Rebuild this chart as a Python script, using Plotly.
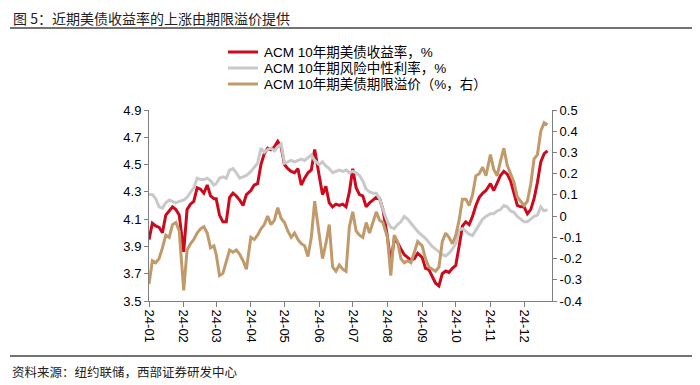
import plotly.graph_objects as go

# ---- data ----
months = list(range(1, 13))
days_in_month = [1, 4, 7, 10, 13, 16, 19, 22, 25, 28]
points_in_dec = 8

yield_10y = [  # ACM 10年期美债收益率, %
    3.95, 4.07, 4.05, 4.04, 4.00, 4.13, 4.16, 4.19, 4.17, 4.13,   # Jan
    3.86, 4.17, 4.21, 4.23, 4.33, 4.32, 4.29, 4.35, 4.27, 4.25,   # Feb
    4.25, 4.13, 4.08, 4.08, 4.26, 4.29, 4.27, 4.24, 4.20, 4.28,   # Mar
    4.31, 4.35, 4.36, 4.50, 4.58, 4.62, 4.61, 4.63, 4.67, 4.63,   # Apr
    4.50, 4.47, 4.45, 4.44, 4.47, 4.35, 4.40, 4.44, 4.46, 4.61,   # May
    4.42, 4.28, 4.34, 4.22, 4.19, 4.21, 4.20, 4.21, 4.19, 4.30,   # Jun
    4.47, 4.33, 4.28, 4.27, 4.19, 4.22, 4.24, 4.26, 4.25, 4.17,   # Jul
    3.97, 3.78, 3.95, 3.93, 3.88, 3.84, 3.82, 3.80, 3.81, 3.85,   # Aug
    3.82, 3.74, 3.73, 3.68, 3.63, 3.61, 3.70, 3.72, 3.71, 3.74,   # Sep
    3.76, 3.90, 4.05, 4.08, 4.06, 4.12, 4.20, 4.26, 4.29, 4.31,   # Oct
    4.36, 4.31, 4.37, 4.42, 4.45, 4.43, 4.38, 4.28, 4.20, 4.19,   # Nov
    4.19, 4.14, 4.17, 4.25, 4.37, 4.52, 4.58, 4.60,               # Dec
]

risk_neutral = [  # ACM 10年期风险中性利率, %
    4.28, 4.28, 4.25, 4.19, 4.18, 4.22, 4.24, 4.23, 4.22, 4.23,   # Jan
    4.24, 4.26, 4.30, 4.33, 4.40, 4.39, 4.39, 4.40, 4.38, 4.35,   # Feb
    4.36, 4.40, 4.41, 4.40, 4.46, 4.47, 4.44, 4.40, 4.41, 4.42,   # Mar
    4.45, 4.48, 4.51, 4.62, 4.59, 4.61, 4.62, 4.60, 4.63, 4.65,   # Apr
    4.51, 4.52, 4.53, 4.52, 4.53, 4.54, 4.53, 4.55, 4.57, 4.53,   # May
    4.50, 4.52, 4.49, 4.47, 4.44, 4.45, 4.46, 4.45, 4.46, 4.44,   # Jun
    4.45, 4.44, 4.42, 4.38, 4.32, 4.30, 4.29, 4.29, 4.25, 4.17,   # Jul
    4.08, 4.04, 4.03, 4.06, 4.08, 4.12, 4.10, 4.07, 4.04, 4.01,   # Aug
    3.98, 3.96, 3.93, 3.90, 3.88, 3.86, 3.84, 3.83, 3.85, 3.88,   # Sep
    3.92, 4.02, 4.03, 4.01, 3.99, 3.98, 4.02, 4.05, 4.10, 4.12,   # Oct
    4.14, 4.14, 4.16, 4.17, 4.20, 4.19, 4.16, 4.15, 4.12, 4.10,   # Nov
    4.08, 4.08, 4.10, 4.12, 4.13, 4.19, 4.16, 4.17,               # Dec
]

term_premium = [  # ACM 10年期美债期限溢价 (%, 右)
    -0.32, -0.21, -0.22, -0.20, -0.15, -0.09, -0.10, -0.04, -0.03, -0.07,  # Jan
    -0.35, -0.16, -0.13, -0.11, -0.08, -0.06, -0.05, -0.08, -0.15, -0.14,  # Feb
    -0.18, -0.28, -0.27, -0.22, -0.16, -0.17, -0.16, -0.18, -0.21, -0.25,  # Mar
    -0.10, -0.11, -0.09, -0.06, -0.04, 0.00, -0.04, -0.02, 0.04, -0.01,    # Apr
    -0.03, -0.07, -0.10, -0.08, -0.11, -0.13, -0.14, -0.19, -0.10, 0.07,   # May
    -0.08, -0.20, -0.13, -0.04, -0.24, -0.26, -0.23, -0.25, -0.26, -0.05,  # Jun
    0.02, -0.07, -0.09, -0.10, -0.03, -0.08, -0.03, 0.02, -0.02, -0.03,    # Jul
    -0.10, -0.28, -0.09, -0.12, -0.20, -0.22, -0.21, -0.22, -0.17, -0.12,  # Aug
    -0.14, -0.20, -0.24, -0.25, -0.26, -0.24, -0.12, -0.08, -0.10, -0.13,  # Sep
    -0.09, -0.02, 0.08, 0.08, 0.05, 0.10, 0.19, 0.20, 0.23, 0.19,          # Oct
    0.29, 0.22, 0.19, 0.26, 0.32, 0.24, 0.20, 0.16, 0.09, 0.07,            # Nov
    0.05, 0.07, 0.15, 0.27, 0.29, 0.40, 0.44, 0.43,                        # Dec
]

x_tick_labels = ["24-01", "24-02", "24-03", "24-04", "24-05", "24-06",
                 "24-07", "24-08", "24-09", "24-10", "24-11", "24-12"]
left_ticks = [3.5, 3.7, 3.9, 4.1, 4.3, 4.5, 4.7, 4.9]
left_tick_labels = ["3.5", "3.7", "3.9", "4.1", "4.3", "4.5", "4.7", "4.9"]
right_ticks = [-0.4, -0.3, -0.2, -0.1, 0.0, 0.1, 0.2, 0.3, 0.4, 0.5]
right_tick_labels = ["-0.4", "-0.3", "-0.2", "-0.1", "0", "0.1", "0.2", "0.3", "0.4", "0.5"]

names = ["ACM 10年期美债收益率，%", "ACM 10年期风险中性利率，%", "ACM 10年期美债期限溢价（%，右）"]
title_text = "图 5：近期美债收益率的上涨由期限溢价提供"
source_text = "资料来源：纽约联储，西部证券研发中心"

# ---- dates ----
dates = []
for m in months:
    ds = days_in_month if m < 12 else days_in_month[:points_in_dec]
    for d in ds:
        dates.append(f"2024-{m:02d}-{d:02d}")
month_starts = [f"2024-{m:02d}-01" for m in months]

RED = "#CC0A1E"
GREY = "#C9C9C9"
TAN = "#C19A6B"
COLORS = [RED, GREY, TAN]
AXIS = "#7F7F7F"
FONT = "Liberation Sans, Arial, Noto Sans CJK SC, sans-serif"

fig = go.Figure()
fig.add_trace(go.Scatter(x=dates, y=yield_10y, name=names[0], mode="lines",
                         line=dict(color=RED, width=3)))
fig.add_trace(go.Scatter(x=dates, y=risk_neutral, name=names[1], mode="lines",
                         line=dict(color=GREY, width=3)))
fig.add_trace(go.Scatter(x=dates, y=term_premium, name=names[2], mode="lines",
                         line=dict(color=TAN, width=3), yaxis="y2"))

# page offset of the figure (default body margin of the html page)
OFF = 8
W, H = 700 - OFF, 385 - OFF
# plot area in page pixels: x 149..552, y 110..301
L, T = 149 - OFF, 110 - OFF
R = W - (552 - OFF)
B = H - (301 - OFF)
pw, ph = W - L - R, H - T - B

def px(xp):  # page pixel -> paper x
    return (xp - OFF - L) / pw

def py(yp):  # page pixel -> paper y
    return (H - B - (yp - OFF)) / ph

shapes = [
    dict(type="line", xref="paper", yref="paper", x0=px(10), x1=px(693),
         y0=py(28), y1=py(28), line=dict(color="#444", width=1.5)),
    dict(type="line", xref="paper", yref="paper", x0=px(10), x1=px(693),
         y0=py(356), y1=py(356), line=dict(color="#444", width=1.5)),
]
annotations = [
    dict(text=title_text, xref="paper", yref="paper", x=px(11), y=py(17.5),
         xanchor="left", yanchor="middle", showarrow=False,
         font=dict(family="Noto Sans CJK SC", size=14, color="#222")),
    dict(text=source_text, xref="paper", yref="paper", x=px(10), y=py(371),
         xanchor="left", yanchor="middle", showarrow=False,
         font=dict(family="Noto Sans CJK SC", size=12.5, color="#222")),
]
# legend (drawn manually for exact row spacing)
legend_rows = [52, 68, 84]
for name, color, row in zip(names, COLORS, legend_rows):
    shapes.append(dict(type="line", xref="paper", yref="paper",
                       x0=px(228), x1=px(258), y0=py(row), y1=py(row),
                       line=dict(color=color, width=3)))
    annotations.append(dict(text=name, xref="paper", yref="paper",
                            x=px(262), y=py(row), xanchor="left", yanchor="middle",
                            showarrow=False, font=dict(size=13.5, color="#000")))

fig.update_layout(
    width=W, height=H, autosize=False,
    margin=dict(l=L, r=R, t=T, b=B, pad=0),
    paper_bgcolor="white", plot_bgcolor="white",
    font=dict(family=FONT, size=13, color="#000000"),
    showlegend=False,
    xaxis=dict(type="date", range=["2024-01-01", "2024-12-26"],
               tickvals=month_starts, ticktext=x_tick_labels, tickangle=90,
               showline=True, linecolor=AXIS, linewidth=1,
               ticks="outside", ticklen=5, tickcolor=AXIS,
               showgrid=False, zeroline=False, tickfont=dict(size=13)),
    yaxis=dict(range=[3.5, 4.9], tickvals=left_ticks, ticktext=left_tick_labels,
               showline=True, linecolor=AXIS, linewidth=1,
               ticks="outside", ticklen=4, tickcolor=AXIS,
               showgrid=False, zeroline=False, tickfont=dict(size=13)),
    yaxis2=dict(range=[-0.4, 0.5], tickvals=right_ticks, ticktext=right_tick_labels,
                overlaying="y", side="right",
                showline=True, linecolor=AXIS, linewidth=1,
                ticks="outside", ticklen=4, tickcolor=AXIS,
                showgrid=False, zeroline=False, tickfont=dict(size=13)),
    shapes=shapes,
    annotations=annotations,
)

fig.write_html("out.html")
